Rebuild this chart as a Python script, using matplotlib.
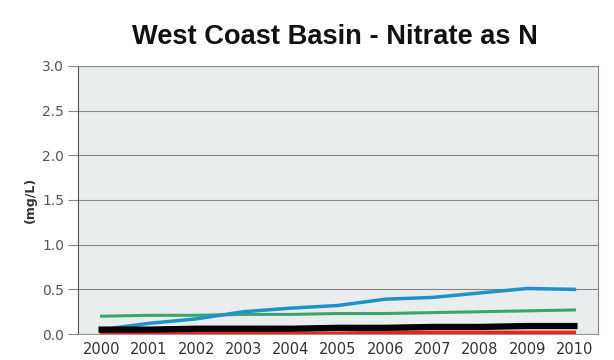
import numpy as np
import matplotlib
matplotlib.use("Agg")
import matplotlib.pyplot as plt

# values
years = ['2000', '2001', '2002', '2003', '2004', '2005', '2006', '2007', '2008', '2009', '2010']
blue = [0.05, 0.12, 0.17, 0.25, 0.29, 0.32, 0.39, 0.41, 0.46, 0.51, 0.50]
green = [0.20, 0.21, 0.21, 0.22, 0.22, 0.23, 0.23, 0.24, 0.25, 0.26, 0.27]
black = [0.05, 0.05, 0.06, 0.06, 0.06, 0.07, 0.07, 0.08, 0.08, 0.09, 0.09]
red = [0.01, 0.01, 0.01, 0.01, 0.01, 0.01, 0.02, 0.02, 0.02, 0.02, 0.02]
yticks = [0.0, 0.5, 1.0, 1.5, 2.0, 2.5, 3.0]

fig = plt.figure(figsize=(6.14, 3.6), dpi=100)
ax = fig.add_axes([0.127, 0.072, 0.847, 0.745])
ax.set_facecolor('#e9eded')

x = np.arange(len(years))
ax.plot(x, red, color='#e8251f', lw=2.5, zorder=3)
ax.plot(x, green, color='#3aa66a', lw=2.2, zorder=3)
ax.plot(x, blue, color='#1f93c9', lw=2.5, zorder=4)
ax.plot(x, black, color='black', lw=4.5, zorder=5)

ax.set_xlim(-0.5, len(years) - 0.5)
ax.set_ylim(0, 3.0)
ax.set_yticks(yticks)
ax.set_yticklabels(['%.1f' % v for v in yticks])
ax.set_xticks(x)
ax.set_xticklabels(years)
ax.tick_params(axis='x', length=0, pad=6, labelsize=10.5, labelcolor='#333333')
ax.tick_params(axis='y', length=7, color='#888888', pad=3, labelsize=10, labelcolor='#555555')
ax.grid(axis='y', color='#888888', lw=0.8)
ax.set_axisbelow(True)

for s in ['top', 'right']:
    ax.spines[s].set_color('#888888')
ax.spines['left'].set_color('#555555')
ax.spines['bottom'].set_color('#999999')

ax.set_ylabel('(mg/L)', fontsize=9, fontweight='bold', color='#333333', labelpad=4)
fig.text(0.545, 0.897, 'West Coast Basin - Nitrate as N', ha='center', va='center',
         fontsize=19.6, fontweight='bold', family='Liberation Sans', color='#111111')

fig.savefig('out.png', dpi=100)
